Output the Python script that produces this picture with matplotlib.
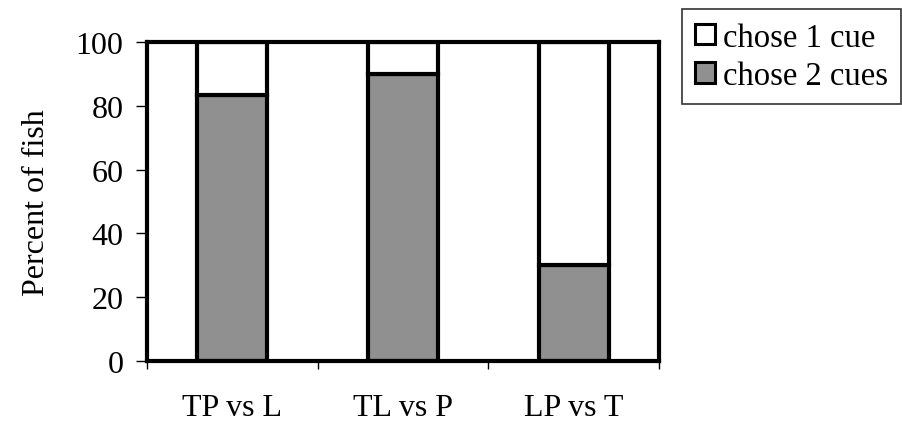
import matplotlib
matplotlib.use("Agg")
import matplotlib.pyplot as plt
import numpy as np

plt.rcParams['font.family'] = ['Liberation Serif', 'DejaVu Serif']

categories = ["TP vs L", "TL vs P", "LP vs T"]
chose_2_cues = [83.3, 90.0, 30.0]
chose_1_cue = [100 - v for v in chose_2_cues]
y_ticks = [0, 20, 40, 60, 80, 100]

FS = 23
LEG_FS = 23.5

fig = plt.figure(figsize=(9.02, 4.27), dpi=100)
ax = fig.add_axes([147 / 902, 1 - 362 / 427, (659 - 147) / 902, (362 - 43) / 427])

x = np.arange(len(categories))
width = 0.41
gray = '#909090'
b2 = ax.bar(x, chose_2_cues, width, color=gray, edgecolor='black', linewidth=3.0,
            label='chose 2 cues', zorder=2)
b1 = ax.bar(x, chose_1_cue, width, bottom=chose_2_cues, color='white',
            edgecolor='black', linewidth=3.0, label='chose 1 cue', zorder=2)

ax.set_xlim(-0.5, len(categories) - 0.5)
ax.set_ylim(0, 100)
ax.set_yticks(y_ticks)
ax.set_yticklabels([str(t) for t in y_ticks], fontsize=FS)
# category boundaries carry the tick marks, labels sit at bar centres
ax.set_xticks(np.arange(len(categories) + 1) - 0.5, minor=False)
ax.set_xticklabels([])
ax.set_xticks(x, minor=True)
ax.set_xticklabels(categories, minor=True, fontsize=FS)
ax.tick_params(axis='x', which='major', length=6, width=1, direction='out')
ax.tick_params(axis='x', which='minor', length=0, pad=23)
ax.tick_params(axis='y', length=8, width=1, direction='out', pad=9)
for s in ax.spines.values():
    s.set_linewidth(3.0)
ax.set_ylabel("Percent of fish", fontsize=FS, labelpad=18)

leg = fig.legend(handles=[b1, b2], labels=['chose 1 cue', 'chose 2 cues'],
                 loc='upper left', bbox_to_anchor=(682 / 902, 1 - 10 / 427),
                 fontsize=LEG_FS, frameon=True, fancybox=False, handlelength=0.6,
                 handleheight=0.6, handletextpad=0.25, borderpad=0.4,
                 labelspacing=0.25, borderaxespad=0)
leg.get_frame().set_edgecolor('black')
leg.get_frame().set_linewidth(1.2)
for h in leg.legend_handles:
    h.set_linewidth(2.2)

fig.savefig("out.png", dpi=100)
